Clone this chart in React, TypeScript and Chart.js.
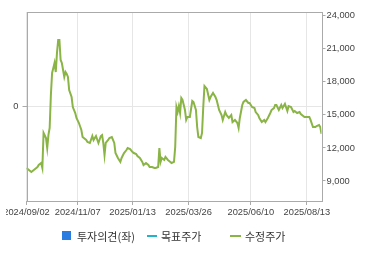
import React, { useEffect, useRef } from "react";
import { Chart, registerables } from "chart.js";

Chart.register(...registerables);

// x positions are trading-day indices from 2024/09/02
const tickIdx = [0, 42, 87, 133, 184, 230];
const tickLabels = ["2024/09/02", "2024/11/07", "2025/01/13", "2025/03/26", "2025/06/10", "2025/08/13"];
const priceTicks = [9000, 12000, 15000, 18000, 21000, 24000];
const opinionTicks = [0];

const dayIdx = [
  0, 2, 4, 6, 9, 10, 12, 13, 14, 16, 17, 18, 19, 20, 21, 22, 23, 24, 25, 26, 27, 28, 29, 30, 31, 32, 33, 34, 35, 37,
  38, 40, 41, 43, 45, 46, 49, 50, 52, 54, 55, 57, 59, 61,
  62, 63, 64, 65, 67, 68, 70, 72, 73, 75, 77, 78, 80, 82, 83, 85, 87, 88, 90, 91, 93, 95, 96, 98, 100, 101, 103, 105,
  106, 108, 109, 110, 111, 113, 114, 116, 118, 119, 121, 122, 123, 124, 125, 126, 127, 128, 129, 130, 131, 132, 134,
  136, 137, 139, 140, 141, 143, 144, 145, 146, 148, 150, 151, 153, 155, 156, 158, 160, 161, 163, 164, 166, 168, 169,
  171, 173, 174, 175, 177, 178, 180, 182, 183, 185, 187, 188, 190, 191, 193, 195, 196, 198, 200, 201, 203, 204, 205,
  207, 209, 210, 212, 214, 215, 217, 219, 220, 222, 224, 225, 227, 228, 230, 232, 233, 235, 237, 238, 240, 241, 242,
];
const price = [
  10180, 10000, 9820, 10000, 10270, 10450, 10630, 10180, 13360, 12900, 11990, 13180, 13810, 16800, 18800, 19250, 19710,
  18890, 20620, 21800, 21800, 19980, 19710, 19070, 18440, 18890, 18710, 18440, 17260, 16620,
  15710, 15170, 14720, 14260, 13630, 12990, 12720, 12540, 12450, 13080, 12720, 13080, 12450, 13080,
  13170, 12450, 11360, 12450, 12720, 12900, 12990, 12450, 11540, 11090, 10730, 11090, 11540, 11810, 11990, 11900,
  11630, 11540, 11450, 11270, 11090, 10730, 10450, 10630, 10450, 10270, 10270, 10180,
  10180, 10270, 11990, 10730, 11090, 10910, 11180, 10910, 10730, 10630, 10730, 12090, 15710, 15260, 15800, 15170,
  16530, 16350, 15900, 15440, 14540, 14810, 14810,
  16260, 16170, 15440, 13900, 12990, 12900, 13360, 15710, 17620, 17350, 16350, 16620, 16990, 16620, 16350, 15440,
  14990, 14540, 15260, 14990, 14720, 14990, 14350,
  14540, 14260, 13810, 14720, 15900, 16170, 16350, 16080, 16080, 15710, 15620, 15260, 14990, 14720, 14350, 14540,
  14350, 14720, 15170, 15440, 15620, 15900, 15900,
  15440, 15900, 15620, 15990, 15350, 15800, 15710, 15260, 15350, 15170, 15260, 15080, 14900, 14810, 14810, 14810,
  14540, 13900, 13900, 13990, 14080, 13900, 13270,
];

const TICK_FONT = { family: "'Liberation Sans', Arial, sans-serif", size: 9.3 };
const TICK_COLOR = "#444";
const GRID = "#e6e6e6";
const AXIS = "#aaa";

const frame = {
  id: "frame",
  afterDatasetsDraw(chart: any) {
    const { ctx, chartArea } = chart;
    ctx.save();
    ctx.strokeStyle = AXIS;
    ctx.lineWidth = 1;
    ctx.strokeRect(
      Math.round(chartArea.left) + 0.5,
      Math.round(chartArea.top) + 0.5,
      Math.round(chartArea.right - chartArea.left),
      Math.round(chartArea.bottom - chartArea.top)
    );
    ctx.restore();
  },
};

export default function App() {
  const ref = useRef<HTMLCanvasElement | null>(null);

  useEffect(() => {
    document.body.style.margin = "0";
    const canvas = ref.current!;
    const chart = new Chart(canvas, {
      type: "line",
      data: {
        datasets: [
          {
            label: "수정주가",
            data: dayIdx.map((d, i) => ({ x: d, y: price[i] })),
            borderColor: "#8ab446",
            borderWidth: 2,
            pointRadius: 0,
            tension: 0,
            yAxisID: "yR",
            xAxisID: "x",
          },
        ],
      },
      options: {
        responsive: false,
        animation: false,
        events: [],
        layout: { padding: { top: 12, bottom: 34, left: 0, right: 0 } },
        plugins: { legend: { display: false }, tooltip: { enabled: false } },
        scales: {
          x: {
            type: "linear",
            position: "bottom",
            min: 0,
            max: 242,
            afterBuildTicks: (s: any) => {
              s.ticks = tickIdx.map((v) => ({ value: v }));
            },
            afterFit: (s: any) => {
              s.height = 20;
              s.paddingLeft = 0;
              s.paddingRight = 0;
            },
            ticks: {
              autoSkip: false,
              maxRotation: 0,
              padding: 2,
              color: TICK_COLOR,
              font: TICK_FONT,
              callback: (v: any) => {
                const k = tickIdx.indexOf(Number(v));
                return k >= 0 ? tickLabels[k] : "";
              },
            },
            grid: { color: GRID, tickColor: AXIS, tickLength: 4 },
            border: { display: false },
          },
          yL: {
            type: "linear",
            position: "left",
            min: -1,
            max: 1,
            afterBuildTicks: (s: any) => {
              s.ticks = opinionTicks.map((v) => ({ value: v }));
            },
            afterFit: (s: any) => {
              s.width = 20.5;
              s.paddingTop = 0;
              s.paddingBottom = 0;
            },
            ticks: { padding: 4, color: TICK_COLOR, font: TICK_FONT },
            grid: { color: GRID, tickColor: AXIS, tickLength: 4 },
            border: { display: false },
          },
          yR: {
            type: "linear",
            position: "right",
            min: 7185,
            max: 24335,
            afterBuildTicks: (s: any) => {
              s.ticks = priceTicks.map((v) => ({ value: v }));
            },
            afterFit: (s: any) => {
              s.width = 48.5;
              s.paddingTop = 0;
              s.paddingBottom = 0;
            },
            ticks: {
              padding: 1,
              color: TICK_COLOR,
              font: TICK_FONT,
              callback: (v: any) => Number(v).toLocaleString("en-US"),
            },
            grid: { drawOnChartArea: false, color: AXIS, tickColor: AXIS, tickLength: 4 },
            border: { display: false },
          },
        },
      },
      plugins: [frame],
    });
    return () => chart.destroy();
  }, []);

  const legendText: React.CSSProperties = {
    position: "absolute",
    top: 230,
    fontFamily: "'Noto Sans CJK KR', sans-serif",
    fontSize: 11,
    lineHeight: "12px",
    color: "#333",
    whiteSpace: "nowrap",
  };

  return (
    <div style={{ position: "relative", width: 370, height: 255, overflow: "hidden", background: "#fff" }}>
      <canvas ref={ref} width={364} height={255} style={{ position: "absolute", left: 6, top: 0, display: "block" }} />
      <div style={{ position: "absolute", left: 62, top: 231, width: 9, height: 9, background: "#2b7ce0" }} />
      <div style={{ ...legendText, left: 77 }}>투자의견(좌)</div>
      <div style={{ position: "absolute", left: 147, top: 235, width: 10, height: 2, background: "#22b4c8" }} />
      <div style={{ ...legendText, left: 161 }}>목표주가</div>
      <div style={{ position: "absolute", left: 230, top: 235, width: 11, height: 2, background: "#8ab446" }} />
      <div style={{ ...legendText, left: 245 }}>수정주가</div>
    </div>
  );
}
